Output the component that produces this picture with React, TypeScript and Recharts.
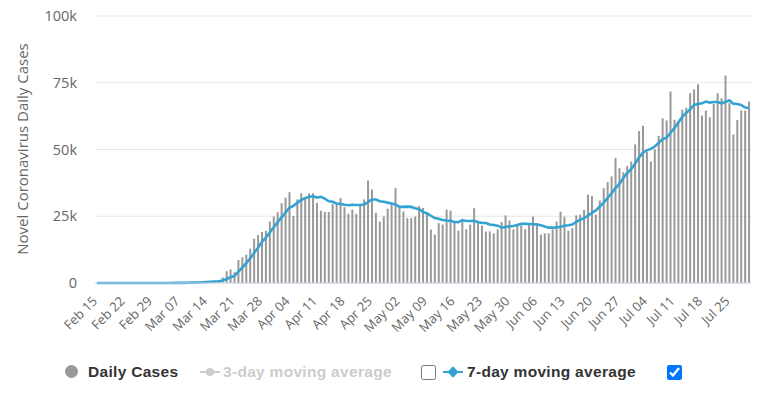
import React from 'react';
import { ComposedChart, Bar, Line, XAxis, YAxis, CartesianGrid } from 'recharts';

// Day ranges per month (Feb 15 .. Jul 30, 2020)
const MONTH_RANGES: [string, number, number][] = [
  ['Feb', 15, 29],
  ['Mar', 1, 31],
  ['Apr', 1, 30],
  ['May', 1, 31],
  ['Jun', 1, 30],
  ['Jul', 1, 30],
];
const categories: string[] = [];
for (const [m, a, b] of MONTH_RANGES) {
  for (let d = a; d <= b; d++) categories.push(`${m} ${String(d).padStart(2, '0')}`);
}

const dailyCases: number[] = [
  0, 0, 0, 0, 0, 0, 0, 1, 0, 3, 0, 2, 1, 3,
  8,
  8, 22, 24, 31, 74, 60, 109, 119, 170, 292, 271, 432, 547, 662, 722, 860, 1100,
  2100, 4400, 5100, 4000, 8600, 9600, 10600, 12900, 16600, 18000, 19100, 19600, 23000, 24900, 26500, 29900, 32000,
  34000, 25100, 31300, 33600, 31500, 33600, 33600, 30000, 27100, 26600,
  26600, 29600, 29600, 31800, 28400, 25900, 27500, 25900, 29600, 31300,
  38400, 35000, 26300, 23000, 24900, 27800, 29600, 35500, 28600, 26800,
  24300, 24300, 24900, 28800, 28100, 25900, 20000, 18100, 22400, 21900,
  27500, 27100, 23100, 19600, 23100, 20100, 21900, 28000, 23400, 21500,
  19300, 19300, 18600, 20100, 22800, 25300, 23400, 20100, 21900, 21500,
  20100, 22400, 24900, 22400, 18100, 18600, 18600, 20100, 23000, 26700,
  24800, 19600, 20500, 25300, 25600, 27400, 33100, 32600, 25600, 30900,
  35500, 37800, 39900, 46800, 43000, 41500, 43900, 45500, 51900, 56900,
  58900, 49000, 45500, 50100, 55100, 61700, 60900, 71700, 61100, 59900,
  64900, 65600, 71100, 72500, 74400, 62700, 64600, 62100, 67100, 71100,
  69200, 77700, 67400, 55600, 61100, 64600, 64600, 68000,
];

const movingAvg7: number[] = [
  0, 0, 0, 0, 0, 0, 0, 0, 0, 1, 1, 1, 1, 1,
  2,
  3, 6, 9, 14, 24, 32, 47, 63, 84, 122, 156, 208, 277, 356, 442, 541, 656,
  918, 1484, 2135, 2612, 4300, 5800, 7400, 9200, 11200, 13200, 15400, 17000, 18900, 20900, 22800, 24600, 26400,
  28200, 28900, 30000, 31100, 31800, 32300, 32500, 32000, 32300, 31600,
  30600, 30400, 29800, 29600, 29300, 29100, 29300, 29200, 29200, 29400,
  30300, 31300, 31300, 30600, 30400, 30100, 29800, 29400, 28500, 28500,
  28600, 28500, 28000, 27600, 26540, 26160, 25190, 24300, 24030, 23600,
  23410, 23270, 22870, 22810, 23530, 23200, 23200, 23270, 22740, 22510,
  22470, 21930, 21710, 21460, 20710, 20990, 21260, 21370, 21740, 22160,
  22160, 22100, 22040, 21900, 21610, 21140, 20730, 20730, 20810, 21070,
  21410, 21630, 21900, 22860, 23640, 24270, 25190, 26300, 27160, 28640,
  30100, 31840, 33630, 35590, 37070, 39340, 41200, 42630, 44640, 47070,
  48800, 49660, 50230, 51110, 52490, 53890, 54460, 56290, 58010, 60070,
  62190, 63690, 65030, 66690, 67070, 67300, 67970, 67570, 67790, 67790,
  67310, 67790, 68460, 67170, 67030, 66670, 65740, 65570,
];

const yTicks: number[] = [0, 25000, 50000, 75000, 100000];
const yTickLabels: string[] = ['0', '25k', '50k', '75k', '100k'];

const data = categories.map((date, i) => ({ date, cases: dailyCases[i], avg7: movingAvg7[i] }));

const AXIS_FONT = "'Open Sans', sans-serif";
const LEGEND_FONT = "'Liberation Sans', Arial, sans-serif";
const LINE_COLOR = '#34a2d2';

const XTick = (props: any) => {
  const { x, y, payload } = props;
  return (
    <text
      transform={`translate(${x + 1},${y + 11}) rotate(-45)`}
      textAnchor="end"
      fontSize={13}
      fill="#666"
      fontFamily={AXIS_FONT}
    >
      {payload.value}
    </text>
  );
};

const fmtY = (v: number) => {
  const i = yTicks.indexOf(v);
  return i >= 0 ? yTickLabels[i] : String(v);
};

const legendText: React.CSSProperties = {
  position: 'absolute',
  fontFamily: LEGEND_FONT,
  fontWeight: 'bold',
  fontSize: 15.5,
  letterSpacing: 0.3,
  lineHeight: '18px',
  whiteSpace: 'nowrap',
};

export default function App() {
  return (
    <div style={{ position: 'absolute', left: 0, top: 0, width: 762, height: 394, background: '#fff', overflow: 'hidden' }}>
      <ComposedChart
        width={762}
        height={345}
        data={data}
        margin={{ top: 16, right: 11, bottom: 0, left: 0 }}
        barCategoryGap={1}
      >
        <CartesianGrid vertical={false} stroke="#e6e6e6" />
        <XAxis
          dataKey="date"
          interval={6}
          tick={<XTick />}
          tickLine={false}
          axisLine={{ stroke: '#ccd6eb' }}
          height={62}
        />
        <YAxis
          domain={[0, 100000]}
          ticks={yTicks}
          tickFormatter={fmtY}
          axisLine={false}
          tickLine={false}
          width={95}
          tickMargin={12}
          tick={{ fontSize: 14.5, fill: '#666', fontFamily: AXIS_FONT }}
        />
        <Bar dataKey="cases" fill="#999999" isAnimationActive={false} />
        <Line
          dataKey="avg7"
          type="linear"
          stroke={LINE_COLOR}
          strokeWidth={2.6}
          dot={false}
          activeDot={false}
          isAnimationActive={false}
        />
      </ComposedChart>

      {/* Y axis title */}
      <div
        style={{
          position: 'absolute',
          left: 22,
          top: 149,
          transform: 'translate(-50%, -50%) rotate(-90deg)',
          fontFamily: AXIS_FONT,
          fontSize: 15,
          color: '#666',
          whiteSpace: 'nowrap',
        }}
      >
        Novel Coronavirus Daily Cases
      </div>

      {/* Legend */}
      <div style={{ position: 'absolute', left: 65, top: 365, width: 13, height: 13, borderRadius: '50%', background: '#999' }} />
      <div style={{ ...legendText, left: 88, top: 363, color: '#333' }}>Daily Cases</div>

      <div style={{ position: 'absolute', left: 200, top: 371, width: 20, height: 2, background: '#ccc' }} />
      <div style={{ position: 'absolute', left: 206, top: 368, width: 8, height: 8, borderRadius: '50%', background: '#ccc' }} />
      <div style={{ ...legendText, left: 223, top: 363, color: '#ccc' }}>3-day moving average</div>
      <input type="checkbox" readOnly style={{ position: 'absolute', left: 421, top: 365, width: 15, height: 15, margin: 0 }} />

      <div style={{ position: 'absolute', left: 443, top: 371, width: 20, height: 2, background: LINE_COLOR }} />
      <div style={{ position: 'absolute', left: 449, top: 368, width: 8, height: 8, background: LINE_COLOR, transform: 'rotate(45deg)' }} />
      <div style={{ ...legendText, left: 467, top: 363, color: '#333' }}>7-day moving average</div>
      <input type="checkbox" checked readOnly style={{ position: 'absolute', left: 667, top: 365, width: 15, height: 15, margin: 0 }} />
    </div>
  );
}
